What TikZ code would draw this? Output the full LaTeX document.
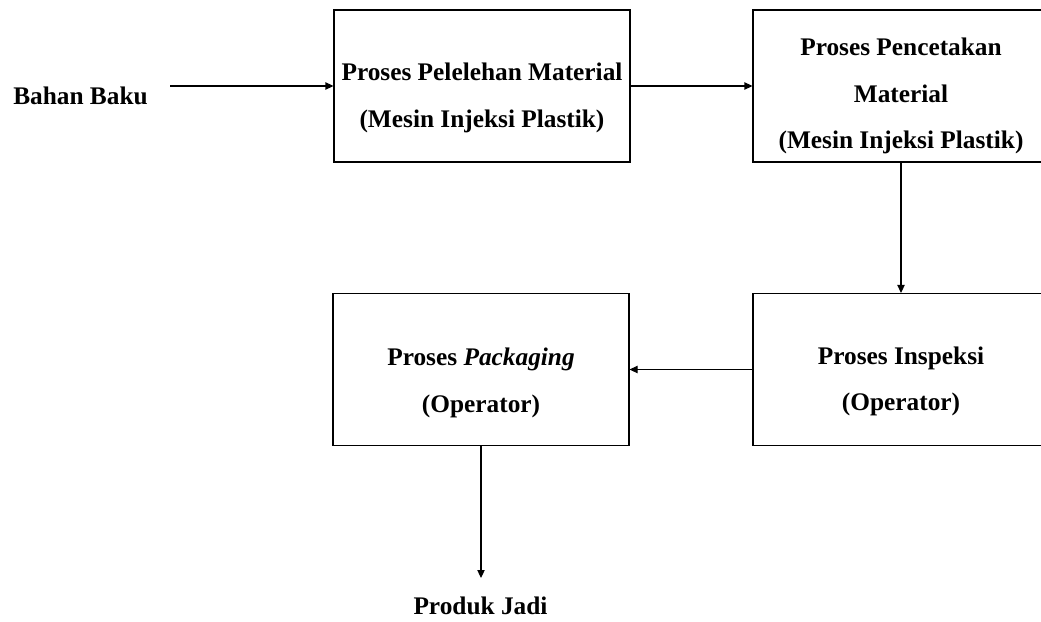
\documentclass[tikz,border=0pt]{standalone}
\usepackage{fontspec}
\setmainfont{Liberation Serif}
\usetikzlibrary{arrows.meta}

\begin{document}
\begin{tikzpicture}[x=0.75pt,y=-0.75pt,
  proc/.style={draw, line width=0.8pt, minimum width=222pt, minimum height=114pt, inner sep=0pt},
  txt/.style={font=\fontsize{19}{35}\selectfont\bfseries, align=center},
  flow/.style={draw, line width=0.8pt, -{Triangle[length=6pt,width=5.5pt]}}]
  \useasboundingbox (0,0) rectangle (1041,621);
  \clip (0,0) rectangle (1041,621);
  % boxes
  \node[proc, label={[txt,yshift=-9pt]center:{Proses Pelelehan Material\\(Mesin Injeksi Plastik)}}] (melt) at (482,86) {};
  \node[proc, label={[txt,yshift=-7.5pt]center:{Proses Pencetakan\\Material\\(Mesin Injeksi Plastik)}}] (mold) at (901,86) {};
  \node[proc, label={[txt,yshift=-9pt]center:{Proses Inspeksi\\(Operator)}}] (insp) at (901,369.5) {};
  \node[proc, label={[txt,yshift=-10pt]center:{Proses \textit{Packaging}\\(Operator)}}] (pack) at (481,369.5) {};
  % input and output
  \node[txt, anchor=base] (bahan) at (80.5,104) {Bahan Baku};
  \node[txt, anchor=base] (jadi) at (480.5,614) {Produk Jadi};
  \coordinate (in) at (170,86);
  \coordinate (out) at (481,578);
  \draw[flow] (in) -- (melt.west);
  \draw[flow] (melt.east) -- (mold.west);
  \draw[flow] (mold.south) -- (insp.north);
  \draw[flow] (insp.west) -- (pack.east);
  \draw[flow] (pack.south) -- (out);
\end{tikzpicture}
\end{document}
